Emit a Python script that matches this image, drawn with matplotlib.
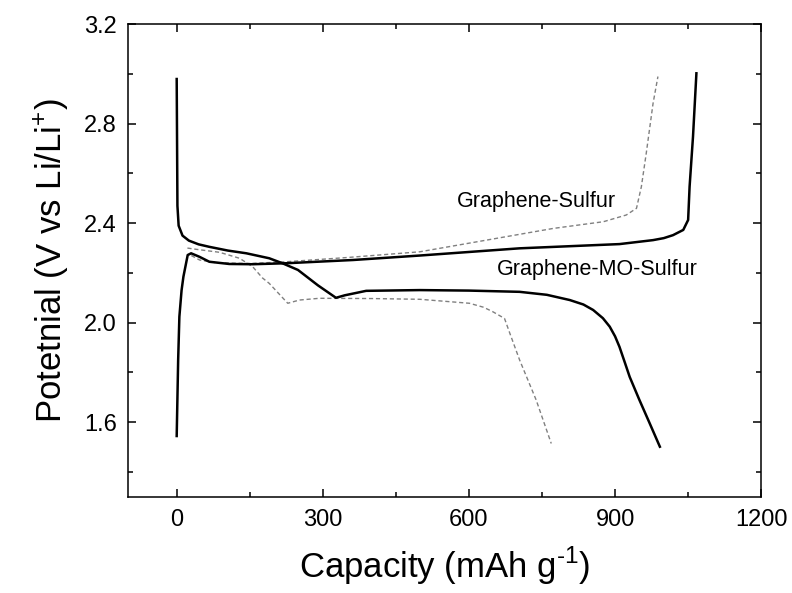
import matplotlib.pyplot as plt
from matplotlib.ticker import MultipleLocator

plt.rcParams['font.family'] = ['Liberation Sans', 'DejaVu Sans']

# Graphene-MO-Sulfur (solid)
mo_dis_cap = [0, 1.5, 4, 12, 25, 45, 67, 105, 143, 190, 217, 249, 290, 327, 345, 389, 499, 600, 704, 760, 807, 835, 855, 875, 889, 900, 909, 920, 930, 950, 970, 992]
mo_dis_v = [2.98, 2.47, 2.39, 2.35, 2.33, 2.315, 2.305, 2.29, 2.279, 2.259, 2.239, 2.212, 2.15, 2.100, 2.11, 2.128, 2.131, 2.129, 2.124, 2.112, 2.091, 2.073, 2.051, 2.018, 1.984, 1.945, 1.903, 1.84, 1.782, 1.689, 1.60, 1.501]
mo_chg_cap = [0, 3, 5.5, 10, 13.8, 22.6, 29.6, 46.6, 67, 108, 156, 225, 362, 499, 704, 909, 978, 1000, 1019, 1040, 1050, 1053, 1060, 1067]
mo_chg_v = [1.544, 1.85, 2.024, 2.13, 2.185, 2.272, 2.279, 2.265, 2.245, 2.236, 2.235, 2.239, 2.252, 2.270, 2.299, 2.316, 2.332, 2.340, 2.352, 2.373, 2.413, 2.547, 2.748, 3.003]

# Graphene-Sulfur (dashed)
gs_dis_cap = [22, 40, 88, 129, 156, 176, 190, 228, 252, 293, 400, 499, 601, 630, 649, 673, 684, 704, 738, 769]
gs_dis_v = [2.30, 2.295, 2.283, 2.259, 2.225, 2.18, 2.158, 2.078, 2.091, 2.098, 2.097, 2.094, 2.078, 2.062, 2.044, 2.017, 1.957, 1.850, 1.689, 1.514]
gs_chg_cap = [30, 47, 81, 150, 225, 350, 499, 636, 773, 876, 923, 944, 954, 964, 978, 988]
gs_chg_v = [2.27, 2.252, 2.241, 2.238, 2.245, 2.262, 2.285, 2.332, 2.379, 2.406, 2.433, 2.460, 2.547, 2.681, 2.882, 2.990]

fig = plt.figure(figsize=(7.92, 5.93), dpi=100)
ax = fig.add_axes([0.1616, 0.1624, 0.7995, 0.7966])

gs_style = dict(color='#808080', lw=1.0, linestyle=(0, (3, 2)))
ax.plot(gs_dis_cap, gs_dis_v, **gs_style)
ax.plot(gs_chg_cap, gs_chg_v, **gs_style)
ax.plot(mo_dis_cap, mo_dis_v, color='black', lw=1.8)
ax.plot(mo_chg_cap, mo_chg_v, color='black', lw=1.8)

ax.text(575, 2.489, 'Graphene-Sulfur', fontsize=15.5, va='center')
ax.text(657, 2.212, 'Graphene-MO-Sulfur', fontsize=15.5, va='center')

ax.set_xlim(-100, 1200)
ax.set_ylim(1.3, 3.2)
ax.xaxis.set_major_locator(MultipleLocator(300))
ax.xaxis.set_minor_locator(MultipleLocator(150))
ax.yaxis.set_minor_locator(MultipleLocator(0.2))
ax.set_yticks([1.6, 2.0, 2.4, 2.8, 3.2])
ax.set_yticklabels(['1.6', '2.0', '2.4', '2.8', '3.2'])
ax.tick_params(which='both', direction='in', top=True, right=True, width=1.1,
               labelsize=17)
ax.tick_params(which='major', length=6)
ax.tick_params(which='minor', length=3.5)
ax.tick_params(axis='x', pad=9)
ax.tick_params(axis='y', pad=8)
for s in ax.spines.values():
    s.set_linewidth(1.1)

ax.set_xlabel('Capacity (mAh g$^{\\mathregular{\u2010}\\mathregular{1}}$)', fontsize=25, labelpad=10)
ax.set_ylabel('Potetnial (V vs Li/Li$^{\\mathregular{+}}$)', fontsize=25, labelpad=10)

fig.savefig('out.png', dpi=100)
